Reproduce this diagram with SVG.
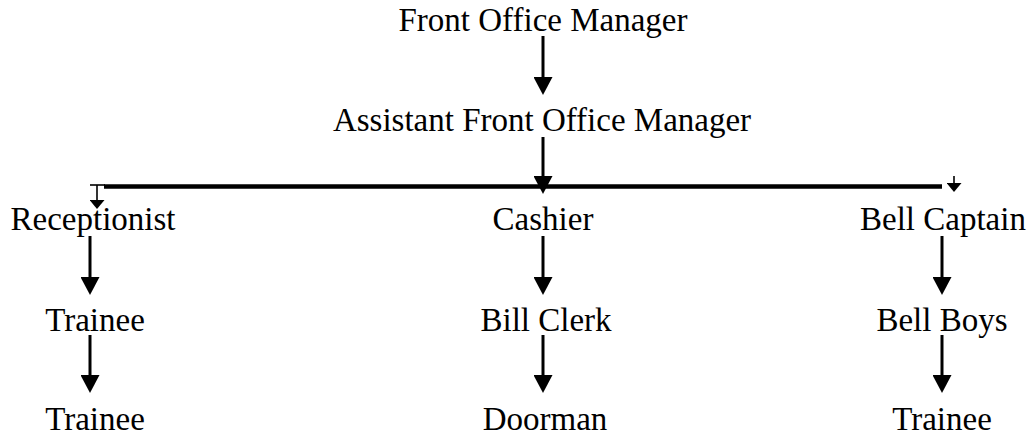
<svg xmlns="http://www.w3.org/2000/svg" width="1029" height="436" viewBox="0 0 1029 436">
  <style>
    .label { font-size: 33px; fill: #000; text-anchor: middle; }
    .shaft { stroke: #000; stroke-width: 3; fill: none; marker-end: url(#head); }
    .thin { stroke: #000; stroke-width: 1.6; fill: none; }
    .thin-arrow { stroke: #000; stroke-width: 1.6; fill: none; marker-end: url(#small-head); }
    .bar { stroke: #000; stroke-width: 4.5; fill: none; }
  </style>
  <defs>
    <marker id="head" markerUnits="userSpaceOnUse" markerWidth="19" markerHeight="19" refX="10" refY="9.5" orient="auto" viewBox="0 0 19 19">
      <path d="M0,0 L18,9.5 L0,19 Z" fill="#000"/>
    </marker>
    <marker id="small-head" markerUnits="userSpaceOnUse" markerWidth="9" markerHeight="15" refX="4" refY="7.5" orient="auto" viewBox="0 0 9 15">
      <path d="M0,0 L9,7.5 L0,15 Z" fill="#000"/>
    </marker>
  </defs>

  <rect width="1029" height="436" fill="#fff"/>

  <!-- connectors -->
  <g id="connectors">
    <line class="shaft" x1="543" y1="36" x2="543" y2="87"/>
    <line class="shaft" x1="543" y1="137" x2="543" y2="186"/>
    <line class="bar" x1="104" y1="186.5" x2="942" y2="186.5"/>
    <!-- left branch drop -->
    <line class="thin" x1="90" y1="185" x2="105" y2="185"/>
    <line class="thin-arrow" x1="97" y1="185" x2="97" y2="204"/>
    <!-- right branch drop -->
    <line class="thin-arrow" x1="954" y1="176" x2="954" y2="187"/>
    <!-- column chains -->
    <line class="shaft" x1="90" y1="236" x2="90" y2="287"/>
    <line class="shaft" x1="90" y1="335" x2="90" y2="385"/>
    <line class="shaft" x1="543" y1="236" x2="543" y2="287"/>
    <line class="shaft" x1="543" y1="335" x2="543" y2="385"/>
    <line class="shaft" x1="942" y1="236" x2="942" y2="287"/>
    <line class="shaft" x1="942" y1="335" x2="942" y2="385"/>
  </g>

  <g font-family="'Liberation Serif', 'DejaVu Serif', serif">
    <g id="front-office-manager"><text class="label" x="543" y="31">Front Office Manager</text></g>
    <g id="assistant-front-office-manager"><text class="label" x="542" y="131">Assistant Front Office Manager</text></g>

    <g id="receptionist"><text class="label" x="93" y="230">Receptionist</text></g>
    <g id="cashier"><text class="label" x="543" y="230">Cashier</text></g>
    <g id="bell-captain"><text class="label" x="943" y="230">Bell Captain</text></g>

    <g id="trainee-1"><text class="label" x="95" y="331">Trainee</text></g>
    <g id="bill-clerk"><text class="label" x="546" y="331">Bill Clerk</text></g>
    <g id="bell-boys"><text class="label" x="942" y="331">Bell Boys</text></g>

    <g id="trainee-2"><text class="label" x="95" y="430">Trainee</text></g>
    <g id="doorman"><text class="label" x="545" y="430">Doorman</text></g>
    <g id="trainee-3"><text class="label" x="942" y="430">Trainee</text></g>
  </g>
</svg>
